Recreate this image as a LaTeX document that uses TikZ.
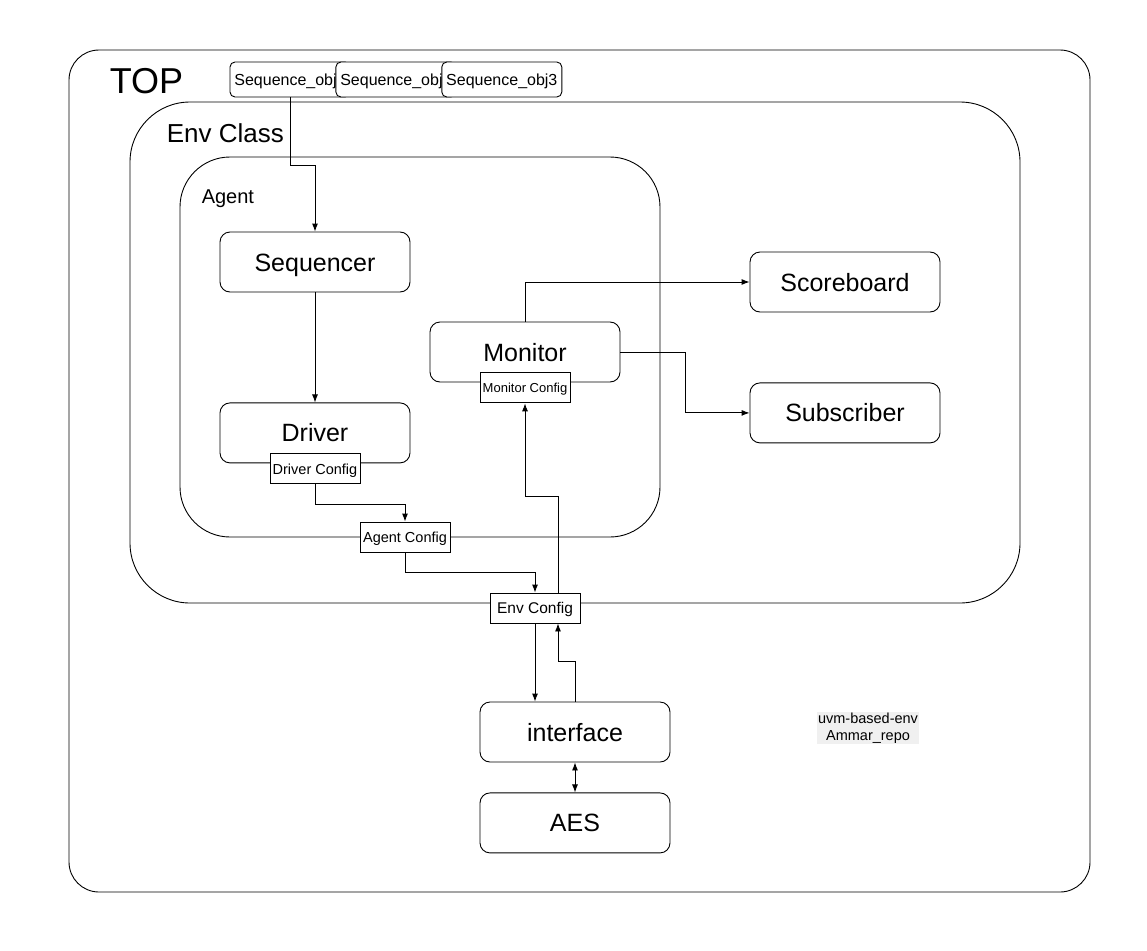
\documentclass[tikz,border=0pt]{standalone}
\usepackage{fontspec}
\setmainfont{Liberation Sans}
\usetikzlibrary{positioning, arrows, arrows.meta}

\begin{document}
\begin{tikzpicture}[
	x=1pt, y=1pt,
	line width=0.9pt,
	frame/.style={rectangle, draw, inner sep=0pt},
	capcentre/.style={text height=#1, text depth=0pt},
	blockbox/.style={rectangle, draw, fill=white, rounded corners=10pt, inner sep=0pt, minimum width=190pt, minimum height=60pt, capcentre=18pt, font=\fontsize{25}{30}\selectfont},
	cfgbox/.style={rectangle, draw, fill=white, inner sep=0pt, minimum width=90pt, minimum height=30pt, capcentre=10.4pt, font=\fontsize{14.5}{17}\selectfont},
	seqobj/.style={rectangle, draw, fill=white, rounded corners=5pt, inner sep=0pt, minimum width=120pt, minimum height=35pt, capcentre=11.5pt, font=\fontsize{16}{19}\selectfont},
	>={Latex[length=8pt, width=6pt]}
]
\useasboundingbox (0,0) rectangle (1147,-950);

% frames
\node[frame, rounded corners=30pt, minimum width=1021pt, minimum height=842pt] (top) at (579.5,-471) {};
\node[frame, rounded corners=60pt, minimum width=890pt, minimum height=501pt] (env) at (575,-352.5) {};
\node[frame, rounded corners=50pt, minimum width=480pt, minimum height=380pt] (agent) at (420,-347) {};
\node[anchor=west, font=\fontsize{36}{40}\selectfont] (toplbl) at (106,-81) {TOP};
\node[anchor=west, font=\fontsize{26}{30}\selectfont] (envlbl) at (163,-133) {Env Class};
\node[anchor=west, font=\fontsize{20}{24}\selectfont] (agentlbl) at (198,-199) {Agent};

% sequence objects
\node[seqobj] (obj1) at (290,-79.5) {Sequence\_obj1};
\node[seqobj, right=-15pt of obj1] (obj2) {Sequence\_obj2};
\node[seqobj, right=-15pt of obj2] (obj3) {Sequence\_obj3};

% agent blocks
\node[blockbox] (seqr) at (315,-262) {Sequencer};
\node[blockbox, below=110pt of seqr] (drv) {Driver};
\node[cfgbox, below=-10pt of drv] (drvcfg) {Driver Config};
\node[blockbox] (mon) at (525,-352) {Monitor};
\node[cfgbox, below=-10pt of mon, font=\fontsize{13}{15}\selectfont, capcentre=9.4pt] (moncfg) {Monitor Config};
\node[cfgbox] (agcfg) at (405,-537) {Agent Config};

% env blocks
\node[blockbox] (score) at (845,-282) {Scoreboard};
\node[blockbox, below=70pt of score] (subs) {Subscriber};
\node[cfgbox, font=\fontsize{15.5}{18}\selectfont, capcentre=11.2pt] (envcfg) at (535,-608) {Env Config};

% dut side
\node[blockbox] (iface) at (575,-732) {interface};
\node[blockbox, below=30pt of iface] (aes) {AES};
\node[fill=gray!12, inner sep=1pt, align=center, font=\fontsize{14.5}{17}\selectfont] (note) at (868,-728) {uvm-based-env\\Ammar\_repo};

% connectors
\draw[->] (obj1.south) |- ++(25,-68) -| (seqr.north);
\draw[->] (seqr) -- (drv);
\draw[->] (drvcfg.south) -- ++(0,-20) -| (agcfg.north);
\draw[->] (agcfg.south) -- ++(0,-20) -| (envcfg.north);
\draw[->] (envcfg.south) -- (envcfg.south |- iface.north);
\draw[->] (iface.north) -- ++(0,40) -| ([xshift=23pt]envcfg.south);
\draw[->] ([xshift=23pt]envcfg.north) -- ++(0,96) -| (moncfg.south);
\draw[->] (mon.north) |- (score.west);
\draw[->] (mon.east) -- ++(65,0) |- (subs.west);
\draw[<->] (iface) -- (aes);

\end{tikzpicture}
\end{document}
